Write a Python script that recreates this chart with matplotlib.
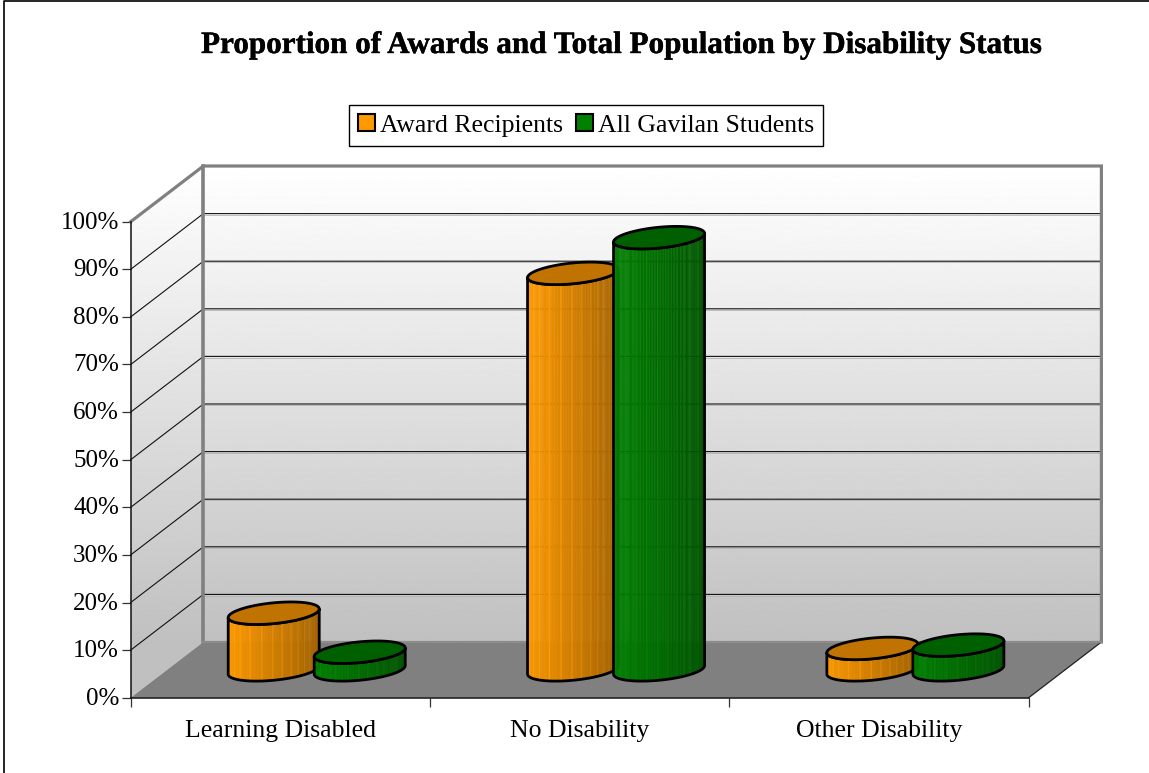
import numpy as np
import matplotlib
matplotlib.use("Agg")
import matplotlib.pyplot as plt
import matplotlib.patheffects as pe
from matplotlib.collections import PolyCollection
from matplotlib.lines import Line2D
from matplotlib.patches import Patch, Polygon
from matplotlib.transforms import ScaledTranslation

categories = ["Learning Disabled", "No Disability", "Other Disability"]
series_names = ["Award Recipients", "All Gavilan Students"]
award_recipients = [11.9, 83.3, 4.5]
all_students = [3.7, 90.8, 5.2]
y_ticks = list(range(0, 101, 10))

W, H = 1149, 773
plt.rcParams["font.family"] = ["Liberation Serif", "DejaVu Serif"]
fig = plt.figure(figsize=(W / 100, H / 100), dpi=100, facecolor="white")
L, R, B, T = 130.7, 1028.7, 697.7, 221.7
ax = fig.add_axes([L / W, 1 - B / H, (R - L) / W, (B - T) / H])
ax.set_xlim(0, 3)
ax.set_ylim(0, 100)
ax.patch.set_visible(False)

# depth of the 3-D box, in data units
DX = 72.7 / ((R - L) / 3)
DY = 55.7 / ((B - T) / 100)
GRAY = "#808080"

def back(x, y, d=1.0):
    return x + d * DX, y + d * DY

# walls: gradient clipped to the wall outline
wall = [(0, 0), back(0, 0), back(3, 0), back(3, 100), back(0, 100), (0, 100)]
rows = np.linspace(100 + DY, 0, 512)
grad = np.clip((rows - DY) / 100, 0, 1)[:, None]
top_c, bot_c = 255, 192
img = (bot_c + (top_c - bot_c) * grad) / 255
im = ax.imshow(img, extent=(0, 3 + DX, 0, 100 + DY), cmap="gray", vmin=0, vmax=1,
               aspect="auto", origin="upper", zorder=1)
clip = Polygon(wall, closed=True, transform=ax.transData, fc="none", ec="none")
ax.add_patch(clip)
im.set_clip_path(clip)
im.set_clip_box(fig.bbox)
ax.set_xlim(0, 3)
ax.set_ylim(0, 100)

# floor
ax.add_patch(Polygon([(0, 0), (3, 0), back(3, 0), back(0, 0)], closed=True, fc=GRAY, ec="none",
                     zorder=2, clip_on=False))
ax.plot([3, 3 + DX], [0, DY], color="#202020", lw=0.9, zorder=2.1, clip_on=False)

# gridlines with their light shadow
shadow = ax.transData + ScaledTranslation(0, -1.2 / 100, fig.dpi_scale_trans)
for v in y_ticks[1:-1]:
    xs = [0, DX, 3 + DX]
    ys = [v, v + DY, v + DY]
    ax.plot(xs[1:], ys[1:], color="#b4b4b4", lw=0.6, zorder=2.2, clip_on=False, transform=shadow)
    ax.plot(xs, ys, color="#111111", lw=0.8, zorder=2.3, clip_on=False)

# wall edges
ax.plot([0, DX, 3 + DX, 3 + DX], [100, 100 + DY, 100 + DY, DY], color=GRAY, lw=2.3,
        zorder=2.4, clip_on=False, solid_joinstyle="miter")
ax.plot([DX, DX], [DY, 100 + DY], color=GRAY, lw=2.6, zorder=2.4, clip_on=False)
ax.plot([DX, 3 + DX], [DY, DY], color="#8c8c8c", lw=1.6, zorder=2.4, clip_on=False)

# cylinders
BAR_W = 91 / ((R - L) / 3)
STEP = 86 / ((R - L) / 3)
SHEAR = 4.3 / ((B - T) / 100)
MINOR = 10.4 / ((B - T) / 100)
STRIPES = {8, 15, 21, 29, 37, 44, 50, 56, 61, 66, 71}

def cylinder(cx, v, base_rgb, top_color, end_f, z):
    a = BAR_W / 2
    y0 = DY / 2
    t = np.linspace(np.pi, 2 * np.pi, 91)
    xe = a * np.cos(t)
    lower = SHEAR * xe / a + MINOR * np.sin(t)
    polys, cols = [], []
    for k in range(len(t) - 1):
        xa, xb = cx + xe[k], cx + xe[k + 1]
        polys.append([(xa, y0 + lower[k]), (xb, y0 + lower[k + 1]),
                      (xb, y0 + v + lower[k + 1]), (xa, y0 + v + lower[k])])
        frac = (xe[k] + a) / (2 * a)
        f = 1 + (end_f - 1) * frac
        if k in STRIPES:
            f = f * 1.1
        col = np.clip(np.array(base_rgb) * f, 0, 1)
        cols.append(tuple(col))
    ax.add_collection(PolyCollection(polys, facecolors=cols, edgecolors=cols, linewidths=0.3,
                                     zorder=z, clip_on=False))
    sil = [(cx + x, y0 + y) for x, y in zip(xe, lower)] + \
          [(cx + x, y0 + v + y) for x, y in zip(xe[::-1], lower[::-1])]
    ax.add_patch(Polygon(sil, closed=True, fc="none", ec="black", lw=2.0, zorder=z + 0.1,
                         clip_on=False, joinstyle="round"))
    tt = np.linspace(0, 2 * np.pi, 181)
    xt = a * np.cos(tt)
    top = [(cx + x, y0 + v + SHEAR * x / a + MINOR * np.sin(p)) for x, p in zip(xt, tt)]
    ax.add_patch(Polygon(top, closed=True, fc=top_color, ec="black", lw=2.0, zorder=z + 0.2,
                         clip_on=False))

z = 3.0
for i, (a_v, s_v) in enumerate(zip(award_recipients, all_students)):
    mid = i + 0.5 + DX / 2
    cylinder(mid - STEP / 2, a_v, (1.0, 0.6, 0.0), "#c07300", 0.64, z)
    z += 0.5
    cylinder(mid + STEP / 2, s_v, (0.0, 0.5, 0.0), "#006000", 0.66, z)
    z += 0.5

# axes
for s in ("top", "right"):
    ax.spines[s].set_visible(False)
for s in ("left", "bottom"):
    ax.spines[s].set_color("#111111")
    ax.spines[s].set_linewidth(1.1)
    ax.spines[s].set_zorder(2.6)
ax.set_yticks(y_ticks, [f"{v}%" for v in y_ticks])
ax.set_xticks([0, 1, 2, 3], [])
ax.set_xticks([0.5, 1.5, 2.5], categories, minor=True)
ax.tick_params(axis="y", length=6.5, width=0.9, color="#333333", labelsize=18, pad=2)
ax.tick_params(axis="x", which="major", length=6.5, width=0.9, color="#333333")
ax.tick_params(axis="x", which="minor", length=0, labelsize=18.5, pad=16)
lift = ScaledTranslation(0, 1.5 / 100, fig.dpi_scale_trans)
for lab in ax.get_yticklabels():
    lab.set_transform(lab.get_transform() + lift)

title = fig.text(621.5 / W, 1 - 45.5 / H, "Proportion of Awards and Total Population by Disability Status",
                 ha="center", va="center", fontsize=22.4, fontweight="bold", color="black")
title.set_path_effects([pe.withStroke(linewidth=0.3, foreground="black")])

handles = [Patch(fc="#ff9900", ec="black", lw=1.5), Patch(fc="#008000", ec="black", lw=1.5)]
leg = fig.legend(handles, series_names, loc="center", bbox_to_anchor=(586 / W, 1 - 125.5 / H),
                 fontsize=18.5, frameon=True, fancybox=False, edgecolor="black", framealpha=1,
                 ncol=2, handlelength=0.66, handleheight=0.66, handletextpad=0.2,
                 columnspacing=0.5, borderpad=0.36, borderaxespad=0)
leg.get_frame().set_linewidth(1.0)

# page frame: only the top and left edges show in the picture
fig.add_artist(Line2D([3.5 / W, 3.5 / W, 1], [0, 1 - 0.8 / H, 1 - 0.8 / H], color="black", lw=1.2))

fig.savefig("out.png", dpi=100, facecolor="white")
